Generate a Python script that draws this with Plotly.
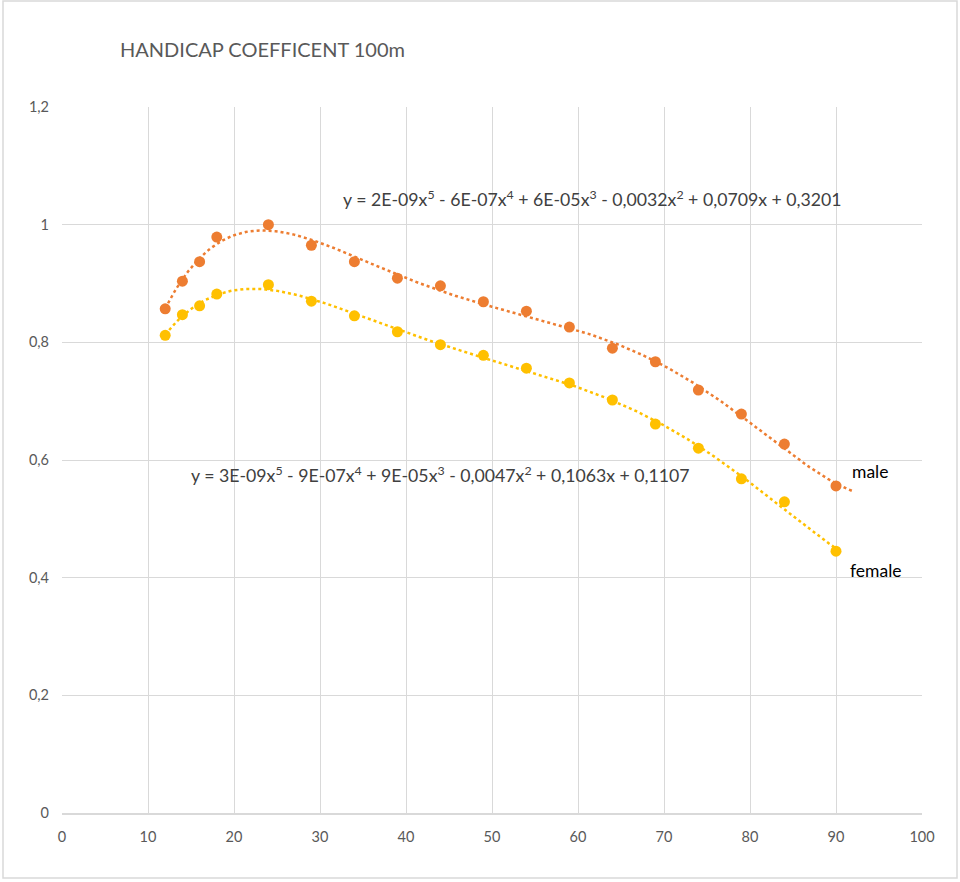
import numpy as np
import plotly.graph_objects as go

ages = [12, 14, 16, 18, 24, 29, 34, 39, 44, 49, 54, 59, 64, 69, 74, 79, 84, 90]
male = [0.857, 0.904, 0.937, 0.979, 1.000, 0.965, 0.937, 0.909, 0.896, 0.869,
        0.853, 0.826, 0.790, 0.767, 0.719, 0.678, 0.627, 0.556]
female = [0.812, 0.847, 0.862, 0.882, 0.898, 0.870, 0.845, 0.818, 0.796, 0.778,
          0.756, 0.731, 0.702, 0.661, 0.620, 0.568, 0.529, 0.445]
male_eq = "y = 2E-09x<sup>5</sup> - 6E-07x<sup>4</sup> + 6E-05x<sup>3</sup> - 0,0032x<sup>2</sup> + 0,0709x + 0,3201"
female_eq = "y = 3E-09x<sup>5</sup> - 9E-07x<sup>4</sup> + 9E-05x<sup>3</sup> - 0,0047x<sup>2</sup> + 0,1063x + 0,1107"

MALE_C = "#ED7D31"
FEMALE_C = "#FFC000"
FONT = "Lato, 'Open Sans', sans-serif"

def trend(xs, ys, x_end):
    c = np.polyfit(xs, ys, 5)
    gx = np.linspace(min(xs), x_end, 300)
    return gx, np.polyval(c, gx)

fig = go.Figure()
mx, my = trend(ages, male, 92)
fx, fy = trend(ages, female, 90)
fig.add_trace(go.Scatter(x=mx, y=my, mode="lines", line=dict(color=MALE_C, width=2.5, dash="dot"),
                         hoverinfo="skip", showlegend=False))
fig.add_trace(go.Scatter(x=fx, y=fy, mode="lines", line=dict(color=FEMALE_C, width=2.5, dash="dot"),
                         hoverinfo="skip", showlegend=False))
fig.add_trace(go.Scatter(x=ages, y=male, mode="markers", name="male",
                         marker=dict(color=MALE_C, size=11), showlegend=False))
fig.add_trace(go.Scatter(x=ages, y=female, mode="markers", name="female",
                         marker=dict(color=FEMALE_C, size=11), showlegend=False))

ann_font = dict(family=FONT, size=17.7, color="#404040")
fig.add_annotation(x=61.7, y=1.044, text=male_eq, showarrow=False, font=ann_font,
                   xanchor="center", yanchor="middle")
fig.add_annotation(x=44.0, y=0.576, text=female_eq, showarrow=False, font=ann_font,
                   xanchor="center", yanchor="middle")
fig.add_annotation(x=94.0, y=0.580, text="male", showarrow=False,
                   font=dict(family=FONT, size=17.5, color="#000000"), xanchor="center", yanchor="middle")
fig.add_annotation(x=94.7, y=0.413, text="female", showarrow=False,
                   font=dict(family=FONT, size=17.5, color="#000000"), xanchor="center", yanchor="middle")

# outer chart border
fig.add_shape(type="rect", xref="paper", yref="paper",
              x0=(3 - 62) / 860, x1=(957 - 62) / 860,
              y0=(813 - 878) / 706, y1=(813 - 1) / 706,
              line=dict(color="#D9D9D9", width=1.5), layer="below")

fig.update_layout(
    width=960, height=882,
    margin=dict(l=62, r=38, t=107, b=69),
    paper_bgcolor="white", plot_bgcolor="white",
    separators=",.",
    title=dict(text="HANDICAP COEFFICENT 100m", font=dict(family=FONT, size=20, color="#595959"),
               xref="paper", x=(120 - 62) / 860, xanchor="left",
               yref="container", y=1 - 50 / 882, yanchor="middle"),
    font=dict(family=FONT, color="#595959", size=14),
    xaxis=dict(range=[0, 100], dtick=10, showgrid=True, gridcolor="#D9D9D9", gridwidth=1,
               zeroline=False, showline=True, linecolor="#D9D9D9", linewidth=1.5,
               ticks="", ticklabelstandoff=10, tickfont=dict(size=14.5, color="#595959"),
               fixedrange=True),
    yaxis=dict(range=[0, 1.2], dtick=0.2, showgrid=True, gridcolor="#D9D9D9", gridwidth=1,
               zeroline=False, showline=False, ticks="", ticklabelstandoff=12,
               tickfont=dict(size=14.5, color="#595959"), fixedrange=True),
)

fig.write_html("out.html")
